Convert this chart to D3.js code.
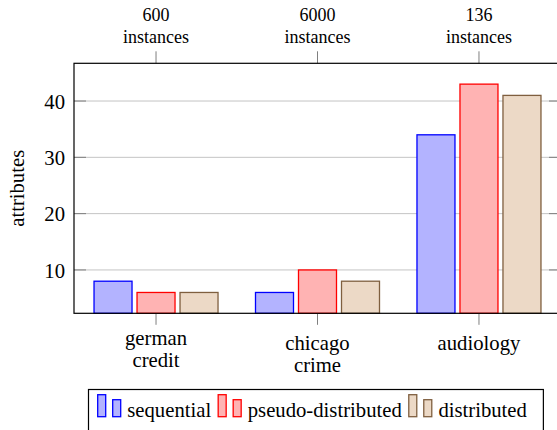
<!DOCTYPE html>
<html lang="en">
	<head>
		<meta charset="utf-8">
		<title>attributes per dataset</title>
		<script src="https://d3js.org/d3.v7.min.js"></script>
		<style type="text/css">
		body { margin: 0; background: #fff; }
		svg { display: block; }
		svg text { font-family: 'Liberation Serif', 'DejaVu Serif', serif; fill: #000; }
		</style>
	</head>
	<body>
		<script type="text/javascript">

			//Data
			var categories = ["german credit", "chicago crime", "audiology"];
			var categoryLines = [["german", "credit"], ["chicago", "crime"], ["audiology"]];
			var instances = ["600", "6000", "136"];
			var series = ["sequential", "pseudo-distributed", "distributed"];
			var sequential = [8, 6, 34];
			var pseudoDistributed = [6, 10, 43];
			var distributed = [6, 8, 41];
			var yTicks = [10, 20, 30, 40];

			var fills = ["#b3b3ff", "#ffb3b3", "#ecd9c6"];
			var strokes = ["#0000ff", "#ff0000", "#7f5f3f"];

			//Width and height
			var w = 557;
			var h = 430;
			var plotLeft = 74, plotRight = 561, plotTop = 63.3, plotBottom = 313.3;

			var svg = d3.select("body")
						.append("svg")
						.attr("width", w)
						.attr("height", h);

			//Scales
			var x = d3.scalePoint()
						.domain(categories)
						.range([plotLeft, plotRight])
						.padding(0.508);

			var xSub = d3.scalePoint()
						.domain(series)
						.range([-43, 43]);
			var barWidth = 38;

			var y = d3.scaleLinear()
						.domain([2.3, 46.7])
						.range([plotBottom, plotTop]);

			//Grid lines
			svg.selectAll("line.grid")
			   .data(yTicks)
			   .enter()
			   .append("line")
			   .attr("x1", plotLeft)
			   .attr("x2", plotRight)
			   .attr("y1", d => y(d))
			   .attr("y2", d => y(d))
			   .attr("stroke", "#c4c4c4")
			   .attr("stroke-width", 1);

			//y ticks (inside, both sides)
			yTicks.forEach(function(t) {
				svg.append("line")
				   .attr("x1", plotLeft).attr("x2", plotLeft + 12)
				   .attr("y1", y(t)).attr("y2", y(t))
				   .attr("stroke", "#7f7f7f").attr("stroke-width", 1);
				svg.append("line")
				   .attr("x1", plotRight - 12).attr("x2", plotRight)
				   .attr("y1", y(t)).attr("y2", y(t))
				   .attr("stroke", "#7f7f7f").attr("stroke-width", 1);
				svg.append("text")
				   .attr("x", plotLeft - 9)
				   .attr("y", y(t))
				   .attr("dy", "0.37em")
				   .attr("text-anchor", "end")
				   .style("font-size", "20.7px")
				   .text(t);
			});

			//Bars
			var values = [sequential, pseudoDistributed, distributed];
			series.forEach(function(s, si) {
				svg.selectAll("rect.s" + si)
				   .data(values[si])
				   .enter()
				   .append("rect")
				   .attr("x", (d, i) => x(categories[i]) + xSub(s) - barWidth / 2)
				   .attr("y", d => y(d))
				   .attr("width", barWidth)
				   .attr("height", d => plotBottom - y(d))
				   .attr("fill", fills[si])
				   .attr("stroke", strokes[si])
				   .attr("stroke-width", 1.3);
			});

			//x ticks, bottom and top
			categories.forEach(function(c, i) {
				svg.append("line")
				   .attr("x1", x(c)).attr("x2", x(c))
				   .attr("y1", plotBottom).attr("y2", plotBottom + 11.5)
				   .attr("stroke", "#7f7f7f").attr("stroke-width", 1);
				svg.append("line")
				   .attr("x1", x(c)).attr("x2", x(c))
				   .attr("y1", plotTop).attr("y2", plotTop - 12)
				   .attr("stroke", "#7f7f7f").attr("stroke-width", 1);

				//bottom labels, anchored at top of first line
				var lines = categoryLines[i];
				var ascent = /[bdfhklt]/.test(lines[0]) ? 14.3 : 9.5;
				lines.forEach(function(l, li) {
					svg.append("text")
					   .attr("x", x(c))
					   .attr("y", 335.2 + ascent + li * 22)
					   .attr("text-anchor", "middle")
					   .style("font-size", "20.7px")
					   .text(l);
				});

				//top labels
				svg.append("text")
				   .attr("x", x(c))
				   .attr("y", 20.7)
				   .attr("text-anchor", "middle")
				   .style("font-size", "18px")
				   .text(instances[i]);
				svg.append("text")
				   .attr("x", x(c))
				   .attr("y", 42.7)
				   .attr("text-anchor", "middle")
				   .style("font-size", "18px")
				   .text("instances");
			});

			//Axis box
			svg.append("rect")
			   .attr("x", plotLeft)
			   .attr("y", plotTop)
			   .attr("width", plotRight - plotLeft)
			   .attr("height", plotBottom - plotTop)
			   .attr("fill", "none")
			   .attr("stroke", "#000")
			   .attr("stroke-width", 1.2);

			//y label
			svg.append("text")
			   .attr("transform", "translate(24," + ((plotTop + plotBottom) / 2) + ") rotate(-90)")
			   .attr("text-anchor", "middle")
			   .style("font-size", "20.7px")
			   .text("attributes");

			//Legend
			var legend = svg.append("g");
			var legendBox = legend.append("rect")
			   .attr("x", 88.5)
			   .attr("y", 389.5)
			   .attr("height", 60)
			   .attr("fill", "#fff")
			   .attr("stroke", "#000")
			   .attr("stroke-width", 1.2);

			var lx = 97.7;
			var baseline = 416.7;
			series.forEach(function(s, si) {
				legend.append("rect")
				   .attr("x", lx).attr("y", baseline - 22)
				   .attr("width", 8).attr("height", 22)
				   .attr("fill", fills[si]).attr("stroke", strokes[si]).attr("stroke-width", 1.3);
				legend.append("rect")
				   .attr("x", lx + 15).attr("y", baseline - 17)
				   .attr("width", 8).attr("height", 17)
				   .attr("fill", fills[si]).attr("stroke", strokes[si]).attr("stroke-width", 1.3);
				var t = legend.append("text")
				   .attr("x", lx + 29.6)
				   .attr("y", baseline)
				   .style("font-size", "20.7px")
				   .text(s);
				lx = lx + 29.6 + t.node().getComputedTextLength() + 7;
			});
			legendBox.attr("width", lx - 7 + 16.5 - 88.5);

		</script>
	</body>
</html>
